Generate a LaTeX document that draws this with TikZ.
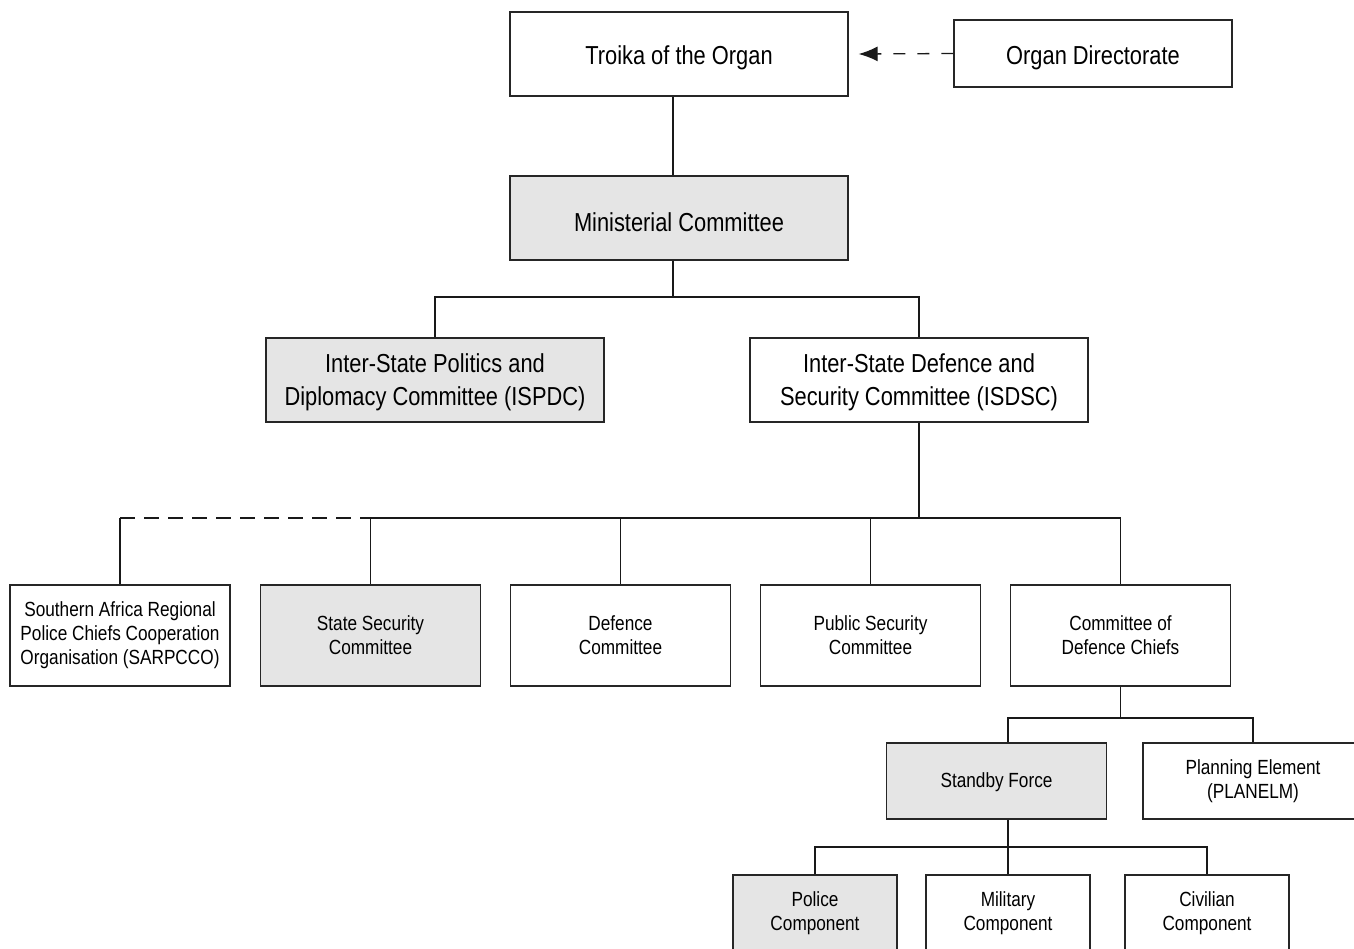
\documentclass[tikz,border=0pt]{standalone}
\usepackage{fontspec}
\setmainfont[FakeStretch=0.84]{Liberation Sans}
\usetikzlibrary{calc, positioning, arrows.meta}

\begin{document}
\begin{tikzpicture}[x=1pt, y=-1pt,
        box/.style={draw=black!85, line width=1.3pt, align=center, inner sep=0pt},
        bigbox/.style={box, minimum width=338pt, minimum height=84pt, font=\fontsize{26}{33}\selectfont,
            execute at begin node={\rule{0pt}{27pt}}},
        twoline/.style={text depth=-2.5pt},
        smallbox/.style={box, minimum width=220pt, minimum height=101pt, font=\fontsize{20.5}{24}\selectfont,
            execute at begin node={\rule{0pt}{17.5pt}}},
        shaded/.style={fill=black!10},
        link/.style={line width=1.3pt, draw=black!90}]
        \useasboundingbox (0,0) rectangle (1354,948);
        \clip (0,0) rectangle (1354,948);

        % top levels
        \node[bigbox] (troika) at (679,54) {Troika of the Organ};
        \node[bigbox, minimum width=278pt, minimum height=67pt] (orgdir) at (1093,53.5) {Organ Directorate};
        \node[bigbox, shaded] (minist) at (679,218) {Ministerial Committee};
        \node[bigbox, twoline, shaded] (ispdc) at (435,380) {Inter-State Politics and\\Diplomacy Committee (ISPDC)};
        \node[bigbox, twoline] (isdsc) at (919,380) {Inter-State Defence and\\Security Committee (ISDSC)};

        % committees
        \node[smallbox] (sarpcco) at (120,635.5) {Southern Africa Regional\\Police Chiefs Cooperation\\Organisation (SARPCCO)};
        \node[smallbox, shaded] (ssc) at (370.5,635.5) {State Security\\Committee};
        \node[smallbox] (defc) at (620.5,635.5) {Defence\\Committee};
        \node[smallbox] (psc) at (870.5,635.5) {Public Security\\Committee};
        \node[smallbox] (cdc) at (1120.5,635.5) {Committee of\\Defence Chiefs};

        % standby force
        \node[smallbox, shaded, minimum height=76pt] (sbf) at (996.5,781) {Standby Force};
        \node[smallbox, minimum height=76pt] (planelm) at (1253,781) {Planning Element\\(PLANELM)};
        \node[smallbox, shaded, minimum width=164pt, minimum height=76pt] (police) at (815,913) {Police\\Component};
        \node[smallbox, minimum width=164pt, minimum height=76pt] (mil) at (1008,913) {Military\\Component};
        \node[smallbox, minimum width=164pt, minimum height=76pt] (civ) at (1207,913) {Civilian\\Component};

        \coordinate (bus1) at (673,297);
        \coordinate (bus2) at (919,518);
        \coordinate (bus3) at (1120.5,718);
        \coordinate (bus4) at (1008,847);

        \draw[link, dash pattern=on 12pt off 12pt, -{Latex[length=19pt,width=15pt]}] (orgdir.west) -- ($(troika.east)+(10,0)$);
        \draw[link] (bus1 |- troika.south) -- (bus1 |- minist.north);
        \draw[link] (bus1 |- minist.south) -- (bus1);
        \draw[link] (ispdc.north) |- (bus1 -| isdsc.north) -- (isdsc.north);

        \draw[link] (isdsc.south) -- (bus2);
        \draw[link] (ssc.north) |- (bus2 -| cdc.north) -- (cdc.north);
        \foreach \n in {defc, psc}
        {
            \draw[link] (\n.north) -- (\n.north |- bus2);
        };
        \draw[link] (sarpcco.north) -- (sarpcco.north |- bus2);
        \draw[link, dash pattern=on 15pt off 9pt] (sarpcco.north |- bus2) -- (bus2 -| ssc.north);

        \draw[link] (cdc.south) -- (bus3);
        \draw[link] (sbf.north -| mil.north) |- (bus3 -| planelm.north) -- (planelm.north);

        \draw[link] (sbf.south -| mil.north) -- (mil.north);
        \draw[link] (police.north) |- (bus4 -| civ.north) -- (civ.north);
\end{tikzpicture}
\end{document}
